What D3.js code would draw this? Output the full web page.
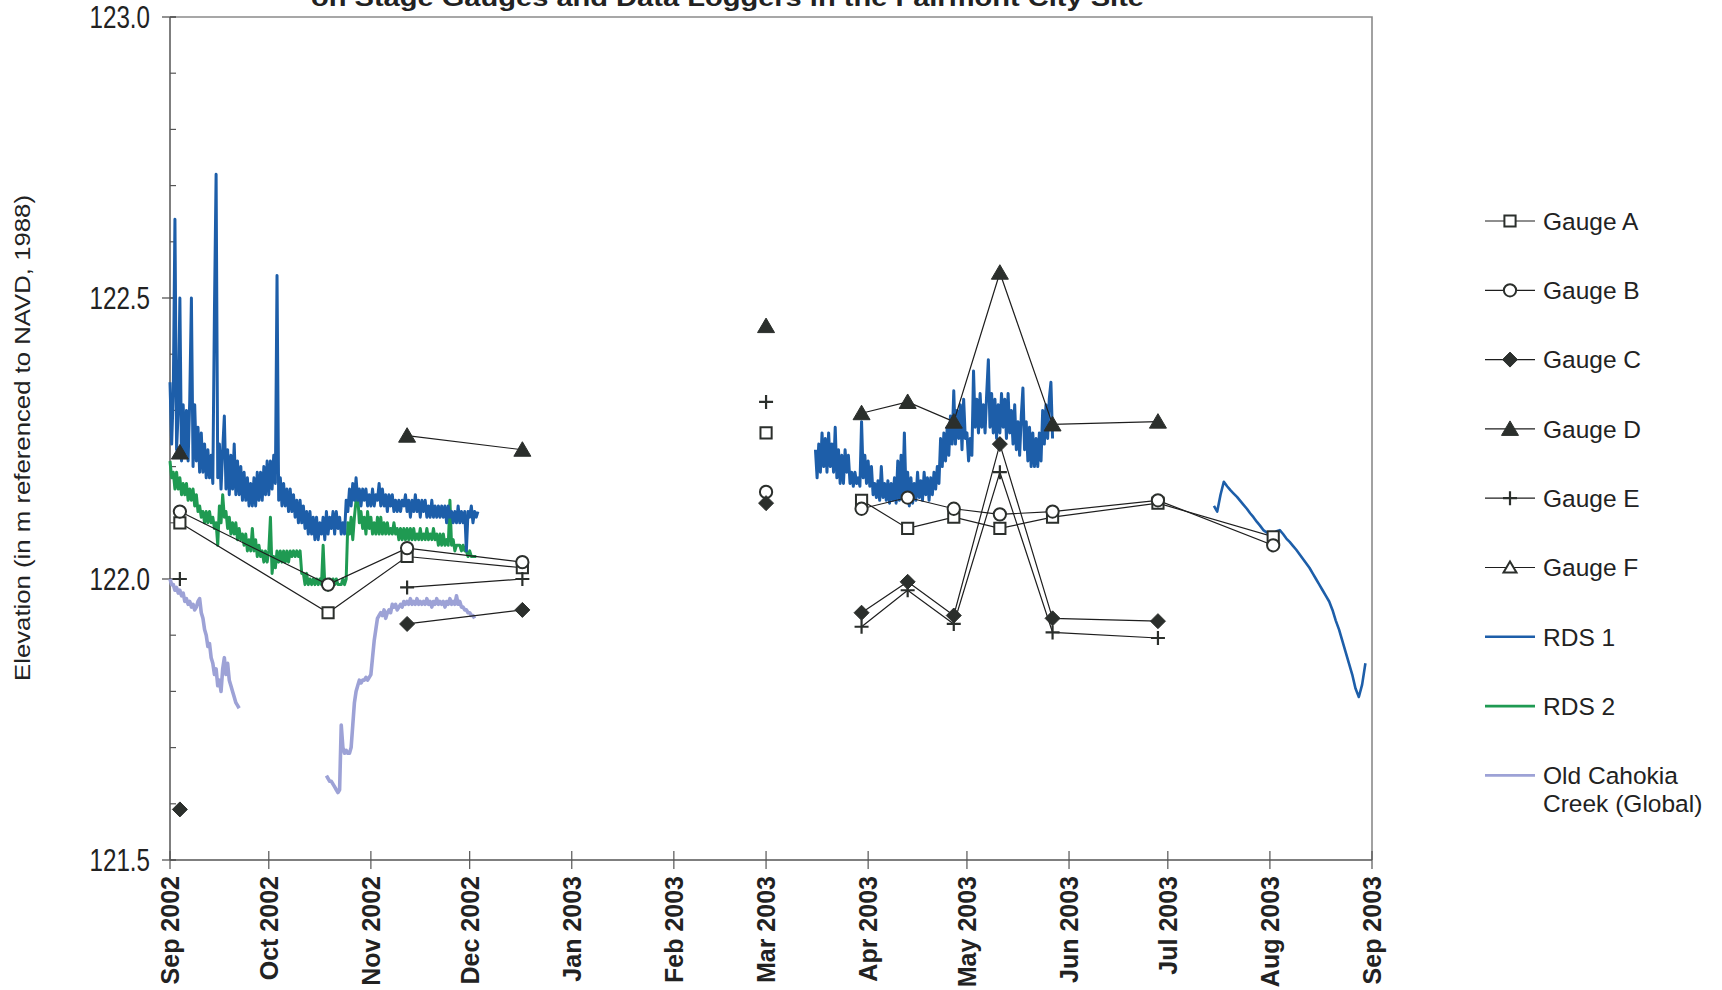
<!DOCTYPE html>
<html>
<head>
<meta charset="utf-8">
<script src="https://cdn.jsdelivr.net/npm/d3@7"></script>
<style>
  html, body { margin: 0; padding: 0; background: #fff; }
  svg { display: block; }
  text { font-family: "Liberation Sans", Arial, sans-serif; fill: #222; }
</style>
</head>
<body>
<svg id="chart" width="1722" height="990"></svg>
<script>
// ---------------- Staff gauge surveys ----------------
const surveyDates = ["2002-09-04", "2002-10-19", "2002-11-12", "2002-12-17",
                     "2003-03-01", "2003-03-30", "2003-04-13", "2003-04-27",
                     "2003-05-11", "2003-05-27", "2003-06-28", "2003-08-02"];
// consecutive surveys sharing a run number are joined by a line
const surveyRun = [1, 1, 1, 1, 2, 3, 3, 3, 3, 3, 3, 3];

const gaugeA = [122.10, 121.94, 122.04, 122.02, 122.26, 122.14, 122.09, 122.11, 122.09, 122.11, 122.135, 122.075];
const gaugeB = [122.12, 121.99, 122.055, 122.03, 122.155, 122.125, 122.145, 122.125, 122.115, 122.12, 122.14, 122.06];
const gaugeC = [121.59, null, 121.92, 121.945, 122.135, 121.94, 121.995, 121.935, 122.24, 121.93, 121.925, null];
const gaugeD = [122.225, null, 122.255, 122.23, 122.45, 122.295, 122.315, 122.28, 122.545, 122.275, 122.28, null];
const gaugeE = [122.00, null, 121.985, 122.00, 122.315, 121.915, 121.98, 121.92, 122.19, 121.905, 121.895, null];
const gaugeF = [null, null, null, null, null, null, null, null, null, null, null, null];

// ---------------- Data logger records ----------------
// RDS 1, fall 2002, 12-hour readings
const rds1FallStart = "2002-09-01T00:00:00Z";
const rds1FallStepDays = 0.5;
const rds1FallValues = [
  122.35,122.24,122.33,122.64,122.23,122.30,122.50,122.21,122.31,122.22,
  122.30,122.21,122.32,122.50,122.20,122.31,122.21,122.27,122.19,122.26,
  122.19,122.24,122.18,122.23,122.18,122.22,122.17,122.48,122.72,122.18,
  122.24,122.16,122.23,122.29,122.16,122.23,122.15,122.22,122.16,122.24,
  122.15,122.21,122.15,122.20,122.14,122.19,122.14,122.18,122.13,122.17,
  122.13,122.18,122.13,122.19,122.14,122.19,122.14,122.20,122.15,122.21,
  122.15,122.21,122.16,122.22,122.17,122.54,122.14,122.18,122.13,122.17,
  122.13,122.16,122.12,122.16,122.12,122.15,122.11,122.14,122.10,122.14,
  122.10,122.13,122.09,122.12,122.08,122.12,122.08,122.11,122.07,122.11,
  122.07,122.10,122.08,122.11,122.07,122.12,122.08,122.11,122.09,122.12,
  122.08,122.12,122.09,122.11,122.08,122.10,122.08,122.14,122.12,122.16,
  122.13,122.17,122.14,122.18,122.14,122.16,122.13,122.16,122.14,122.16,
  122.13,122.15,122.13,122.16,122.13,122.15,122.14,122.17,122.13,122.16,
  122.13,122.15,122.12,122.15,122.13,122.15,122.12,122.14,122.12,122.14,
  122.12,122.14,122.13,122.15,122.12,122.14,122.11,122.14,122.12,122.15,
  122.12,122.14,122.11,122.14,122.12,122.14,122.11,122.13,122.11,122.14,
  122.11,122.13,122.11,122.13,122.11,122.13,122.11,122.13,122.10,122.13,
  122.11,122.12,122.10,122.12,122.10,122.13,122.10,122.12,122.10,122.12,
  122.05,122.12,122.11,122.13,122.10,122.12,122.11,122.12];

// RDS 1, spring 2003, 12-hour readings
const rds1SpringStart = "2003-03-16T00:00:00Z";
const rds1SpringStepDays = 0.5;
const rds1SpringValues = [
  122.23,122.18,122.24,122.19,122.26,122.20,122.25,122.19,122.26,122.20,
  122.24,122.19,122.27,122.18,122.23,122.17,122.22,122.17,122.23,122.19,
  122.22,122.17,122.19,122.165,122.19,122.17,122.18,122.165,122.28,122.18,
  122.22,122.17,122.21,122.165,122.20,122.15,122.17,122.145,122.175,122.14,
  122.20,122.145,122.17,122.14,122.175,122.135,122.17,122.14,122.18,122.135,
  122.21,122.14,122.22,122.145,122.26,122.15,122.19,122.13,122.18,122.135,
  122.17,122.14,122.19,122.145,122.175,122.14,122.19,122.15,122.18,122.14,
  122.18,122.15,122.19,122.16,122.20,122.17,122.25,122.20,122.26,122.21,
  122.27,122.22,122.29,122.24,122.335,122.24,122.30,122.25,122.31,122.23,
  122.32,122.25,122.26,122.21,122.25,122.22,122.37,122.27,122.32,122.26,
  122.33,122.27,122.31,122.26,122.33,122.39,122.27,122.33,122.26,122.32,
  122.25,122.31,122.26,122.33,122.27,122.32,122.25,122.33,122.26,122.30,
  122.24,122.31,122.23,122.28,122.22,122.29,122.34,122.23,122.28,122.21,
  122.27,122.20,122.26,122.20,122.25,122.20,122.26,122.21,122.30,122.24,
  122.31,122.25,122.32,122.35,122.25];

// RDS 1, summer 2003, daily readings
const rds1SummerStart = "2003-07-15T00:00:00Z";
const rds1SummerStepDays = 1;
const rds1SummerValues = [
  122.13,122.12,122.15,122.173,122.165,122.158,122.152,122.146,122.139,122.132,
  122.125,122.117,122.11,122.102,122.095,122.087,122.083,122.08,122.081,122.085,
  122.087,122.08,122.072,122.066,122.059,122.052,122.044,122.036,122.028,122.02,
  122.01,122.0,121.99,121.98,121.97,121.96,121.945,121.926,121.91,121.89,
  121.87,121.85,121.83,121.805,121.79,121.812,121.85];

// RDS 2, fall 2002, 12-hour readings
const rds2FallStart = "2002-09-01T00:00:00Z";
const rds2FallStepDays = 0.5;
const rds2FallValues = [
  122.21,122.18,122.19,122.16,122.19,122.16,122.18,122.15,122.17,122.15,
  122.17,122.14,122.16,122.14,122.16,122.13,122.15,122.12,122.13,122.11,
  122.12,122.10,122.12,122.10,122.12,122.10,122.11,122.09,122.10,122.06,
  122.13,122.10,122.15,122.11,122.12,122.09,122.11,122.08,122.10,122.08,
  122.10,122.07,122.09,122.07,122.08,122.06,122.08,122.05,122.07,122.05,
  122.09,122.05,122.07,122.04,122.06,122.04,122.05,122.03,122.05,122.03,
  122.05,122.11,122.01,122.04,122.02,122.05,122.03,122.05,122.03,122.05,
  122.03,122.05,122.03,122.05,122.04,122.05,122.04,122.05,122.04,122.05,
  122.01,122.01,121.99,122.01,121.99,122.00,121.99,122.00,121.99,122.00,
  121.99,122.00,121.99,122.06,121.99,121.99,121.98,122.00,121.99,122.00,
  121.99,122.00,121.99,121.99,121.99,122.00,121.99,122.00,122.10,122.08,
  122.11,122.07,122.11,122.14,122.15,122.10,122.12,122.09,122.11,122.08,
  122.12,122.09,122.11,122.08,122.10,122.08,122.11,122.08,122.11,122.08,
  122.10,122.08,122.10,122.08,122.09,122.08,122.10,122.08,122.09,122.07,
  122.09,122.07,122.09,122.07,122.09,122.07,122.09,122.07,122.09,122.07,
  122.08,122.07,122.09,122.07,122.08,122.07,122.09,122.07,122.08,122.07,
  122.09,122.07,122.08,122.06,122.08,122.06,122.08,122.06,122.07,122.06,
  122.14,122.06,122.07,122.05,122.06,122.06,122.06,122.05,122.06,122.05,
  122.05,122.04,122.05,122.04,122.04,122.04,122.04];

// Old Cahokia Creek (Global logger), 12-hour readings
const cahokiaSepStart = "2002-09-01T00:00:00Z";
const cahokiaSepStepDays = 0.5;
const cahokiaSepValues = [
  122.00,121.99,121.99,121.98,121.985,121.975,121.98,121.97,121.975,121.96,
  121.965,121.955,121.96,121.95,121.955,121.945,121.95,121.96,121.965,121.94,
  121.93,121.91,121.90,121.88,121.885,121.86,121.85,121.83,121.84,121.81,
  121.82,121.80,121.84,121.86,121.83,121.85,121.82,121.81,121.80,121.79,
  121.78,121.775,121.77];

const cahokiaOctStart = "2002-10-18T12:00:00Z";
const cahokiaOctStepDays = 0.5;
const cahokiaOctValues = [
  121.65,121.645,121.64,121.64,121.635,121.63,121.625,121.62,121.625,121.74,
  121.70,121.69,121.695,121.69,121.69,121.70,121.74,121.78,121.80,121.81,
  121.82,121.815,121.82,121.82,121.825,121.82,121.825,121.83,121.86,121.89,
  121.91,121.93,121.935,121.94,121.935,121.945,121.93,121.94,121.945,121.94,
  121.955,121.95,121.955,121.945,121.95,121.955,121.95,121.96,121.955,121.96,
  121.955,121.965,121.955,121.96,121.955,121.965,121.955,121.96,121.955,121.96,
  121.955,121.965,121.955,121.96,121.95,121.96,121.955,121.965,121.955,121.96,
  121.955,121.96,121.95,121.96,121.955,121.965,121.955,121.96,121.955,121.97,
  121.955,121.96,121.95,121.95,121.945,121.945,121.94,121.94,121.935,121.935,
  121.93];

// ---------------- Labels ----------------
const titleText = "on Stage Gauges and Data Loggers in the Fairmont City Site";
const yAxisTitle = "Elevation (in m referenced to NAVD, 1988)";
const yTickValues = [121.5, 122.0, 122.5, 123.0];
const legendLabels = ["Gauge A", "Gauge B", "Gauge C", "Gauge D", "Gauge E", "Gauge F",
                      "RDS 1", "RDS 2", "Old Cahokia\nCreek (Global)"];

// ---------------- Drawing ----------------
const svg = d3.select("#chart");
svg.append("rect").attr("width", 1722).attr("height", 990).attr("fill", "#fff");

const plot = { left: 170, right: 1372, top: 17, bottom: 860 };
const x = d3.scaleUtc()
  .domain([new Date("2002-09-01T00:00:00Z"), new Date("2003-09-01T00:00:00Z")])
  .range([plot.left, plot.right]);
const y = d3.scaleLinear().domain([121.5, 123.0]).range([plot.bottom, plot.top]);

const COLORS = { rds1: "#1d5ea9", rds2: "#1f9a52", cahokia: "#9da2d6", mark: "#2b2f2c", frame: "#8a8a8a", axis: "#555" };

// plot frame (top and right)
svg.append("path")
  .attr("d", `M${plot.left},${plot.top}H${plot.right}V${plot.bottom}`)
  .attr("fill", "none").attr("stroke", COLORS.frame).attr("stroke-width", 1.6);

// y axis line, ticks
const yAxisG = svg.append("g");
yAxisG.append("line").attr("x1", plot.left).attr("x2", plot.left)
  .attr("y1", plot.top).attr("y2", plot.bottom)
  .attr("stroke", COLORS.axis).attr("stroke-width", 1.5);
const minorTicks = d3.range(0, 16).map(i => 121.5 + i * 0.1);
yAxisG.selectAll("line.minor").data(minorTicks).join("line")
  .attr("class", "minor")
  .attr("x1", plot.left).attr("x2", plot.left + 6)
  .attr("y1", d => y(d)).attr("y2", d => y(d))
  .attr("stroke", COLORS.axis).attr("stroke-width", 1.2);
yAxisG.selectAll("line.major").data(yTickValues).join("line")
  .attr("class", "major")
  .attr("x1", plot.left - 8).attr("x2", plot.left + 6)
  .attr("y1", d => y(d)).attr("y2", d => y(d))
  .attr("stroke", COLORS.axis).attr("stroke-width", 1.3);
yAxisG.selectAll("text").data(yTickValues).join("text")
  .attr("transform", d => `translate(150,${y(d)}) scale(0.78,1)`)
  .attr("text-anchor", "end").attr("dy", "0.36em")
  .attr("font-size", 31)
  .text(d => d3.format(".1f")(d));

// x axis line, month ticks, labels
const months = d3.utcMonth.range(x.domain()[0], d3.utcDay.offset(x.domain()[1], 1));
const xAxisG = svg.append("g");
xAxisG.append("line").attr("x1", plot.left).attr("x2", plot.right)
  .attr("y1", plot.bottom).attr("y2", plot.bottom)
  .attr("stroke", COLORS.axis).attr("stroke-width", 1.5);
xAxisG.selectAll("line.tick").data(months).join("line")
  .attr("class", "tick")
  .attr("x1", d => x(d)).attr("x2", d => x(d))
  .attr("y1", plot.bottom - 9).attr("y2", plot.bottom + 9)
  .attr("stroke", COLORS.axis).attr("stroke-width", 1.2);
xAxisG.selectAll("text").data(months).join("text")
  .attr("transform", d => `translate(${x(d)},${plot.bottom + 16}) rotate(-90)`)
  .attr("text-anchor", "end").attr("dy", "0.36em")
  .attr("font-size", 25).attr("font-weight", "bold")
  .text(d => d3.utcFormat("%b %Y")(d));

// axis title
svg.append("text")
  .attr("transform", `translate(22,438) rotate(-90)`)
  .attr("text-anchor", "middle").attr("dy", "0.36em")
  .attr("font-size", 22)
  .attr("textLength", 486).attr("lengthAdjust", "spacingAndGlyphs")
  .text(yAxisTitle);

// chart title (lower line of a two-line heading)
svg.append("text")
  .attr("x", 311).attr("y", 6)
  .attr("font-size", 24).attr("font-weight", "bold")
  .attr("textLength", 833).attr("lengthAdjust", "spacingAndGlyphs")
  .text(titleText);

// logger series
function loggerSeries(start, stepDays, values) {
  const t0 = new Date(start).getTime();
  return values.map((v, i) => ({ date: new Date(t0 + i * stepDays * 864e5), value: v }));
}
const loggerLine = d3.line().x(d => x(d.date)).y(d => y(d.value));

const loggers = [
  { data: loggerSeries(cahokiaSepStart, cahokiaSepStepDays, cahokiaSepValues), color: COLORS.cahokia, width: 3.6 },
  { data: loggerSeries(cahokiaOctStart, cahokiaOctStepDays, cahokiaOctValues), color: COLORS.cahokia, width: 3.6 },
  { data: loggerSeries(rds2FallStart, rds2FallStepDays, rds2FallValues), color: COLORS.rds2, width: 3.0 },
  { data: loggerSeries(rds1FallStart, rds1FallStepDays, rds1FallValues), color: COLORS.rds1, width: 3.0 },
  { data: loggerSeries(rds1SpringStart, rds1SpringStepDays, rds1SpringValues), color: COLORS.rds1, width: 3.0 },
  { data: loggerSeries(rds1SummerStart, rds1SummerStepDays, rds1SummerValues), color: COLORS.rds1, width: 2.6 }
];
svg.append("g").selectAll("path").data(loggers).join("path")
  .attr("d", d => loggerLine(d.data))
  .attr("fill", "none")
  .attr("stroke", d => d.color)
  .attr("stroke-width", d => d.width)
  .attr("stroke-linejoin", "round");

// gauge series
const markerPaths = {
  square: d3.symbol(d3.symbolSquare, 125)(),
  circle: d3.symbol(d3.symbolCircle, 118)(),
  diamond: "M0,-7.5L7.5,0L0,7.5L-7.5,0Z",
  triangle: "M0,-8L8.5,6.5L-8.5,6.5Z",
  plus: "M-7,0H7M0,-7V7",
  smallTriangle: "M0,-6L6.5,5L-6.5,5Z"
};
const markerStyle = {
  square: { fill: "#fff", stroke: COLORS.mark, sw: 2 },
  circle: { fill: "#fff", stroke: COLORS.mark, sw: 2 },
  diamond: { fill: COLORS.mark, stroke: COLORS.mark, sw: 1 },
  triangle: { fill: COLORS.mark, stroke: COLORS.mark, sw: 1 },
  plus: { fill: "none", stroke: COLORS.mark, sw: 2.2 },
  smallTriangle: { fill: "#fff", stroke: COLORS.mark, sw: 2 }
};

const gauges = [
  { values: gaugeA, marker: "square" },
  { values: gaugeB, marker: "circle" },
  { values: gaugeC, marker: "diamond" },
  { values: gaugeD, marker: "triangle" },
  { values: gaugeE, marker: "plus" },
  { values: gaugeF, marker: "smallTriangle" }
];
const gaugeLine = d3.line().defined(d => d.value != null).x(d => x(d.date)).y(d => y(d.value));

const gaugeG = svg.append("g");
gauges.forEach(g => {
  const pts = surveyDates.map((s, i) => ({ date: new Date(s + "T00:00:00Z"), value: g.values[i], run: surveyRun[i] }));
  d3.groups(pts, d => d.run).forEach(([, runPts]) => {
    gaugeG.append("path").attr("d", gaugeLine(runPts))
      .attr("fill", "none").attr("stroke", "#1e1e1e").attr("stroke-width", 1.2);
  });
});
gauges.forEach(g => {
  const pts = surveyDates.map((s, i) => ({ date: new Date(s + "T00:00:00Z"), value: g.values[i] }))
    .filter(d => d.value != null);
  const st = markerStyle[g.marker];
  gaugeG.append("g").selectAll("path").data(pts).join("path")
    .attr("transform", d => `translate(${x(d.date)},${y(d.value)})`)
    .attr("d", markerPaths[g.marker])
    .attr("fill", st.fill).attr("stroke", st.stroke).attr("stroke-width", st.sw);
});

// legend
const legendX0 = 1485, legendX1 = 1535, legendTextX = 1543;
const legendY0 = 221, legendStep = 69.3;
const legendKinds = [
  { marker: "square" }, { marker: "circle" }, { marker: "diamond" }, { marker: "triangle" },
  { marker: "plus" }, { marker: "smallTriangle" },
  { color: COLORS.rds1 }, { color: COLORS.rds2 }, { color: COLORS.cahokia }
];
const legend = svg.append("g");
legendLabels.forEach((label, i) => {
  const ly = legendY0 + i * legendStep;
  const kind = legendKinds[i];
  legend.append("line").attr("x1", legendX0).attr("x2", legendX1).attr("y1", ly).attr("y2", ly)
    .attr("stroke", kind.color || "#1e1e1e").attr("stroke-width", kind.color ? 2.6 : 1.2);
  if (kind.marker) {
    const st = markerStyle[kind.marker];
    legend.append("path").attr("transform", `translate(${(legendX0 + legendX1) / 2},${ly})`)
      .attr("d", markerPaths[kind.marker])
      .attr("fill", st.fill).attr("stroke", st.stroke).attr("stroke-width", st.sw);
  }
  const t = legend.append("text").attr("x", legendTextX).attr("y", ly)
    .attr("font-size", 24.5);
  label.split("\n").forEach((part, j) => {
    t.append("tspan").attr("x", legendTextX).attr("dy", j === 0 ? "0.36em" : "1.14em").text(part);
  });
});
</script>
</body>
</html>
